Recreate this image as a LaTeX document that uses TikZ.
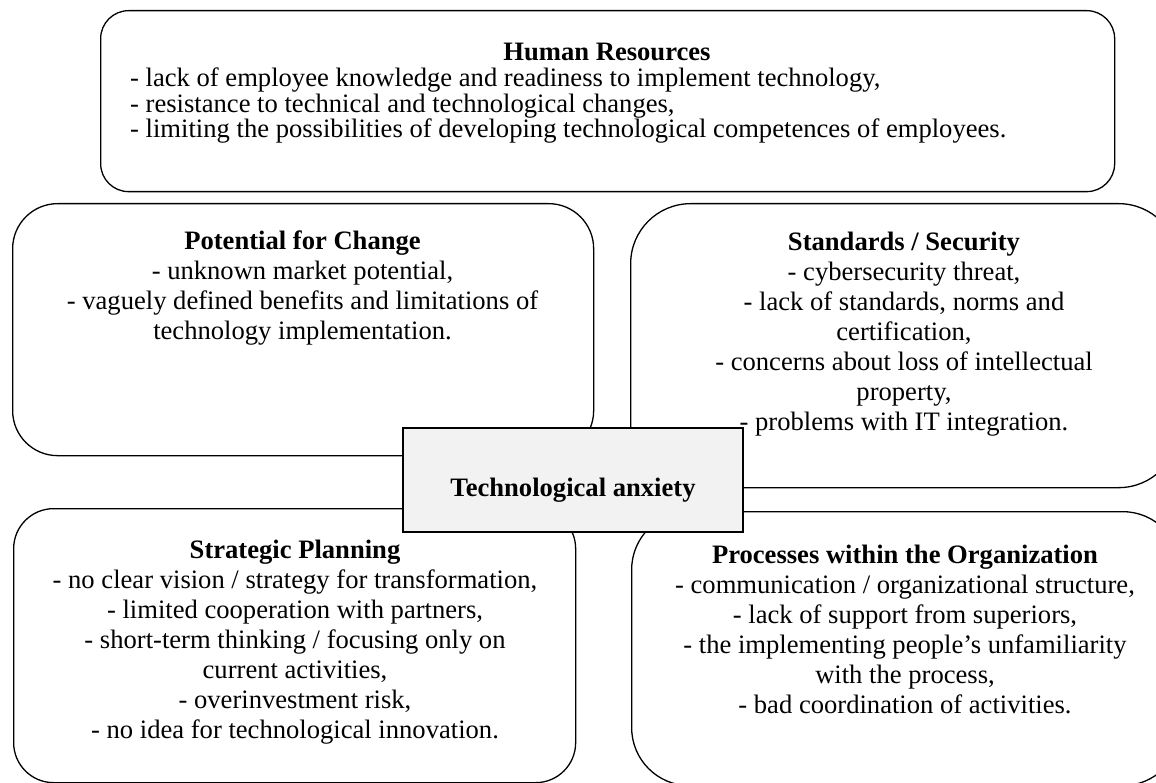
\documentclass[tikz,border=0pt]{standalone}
\usepackage{fontspec}
\setmainfont{Liberation Serif}
\definecolor{hubgrey}{HTML}{F2F2F2}
\begin{document}
\begin{tikzpicture}[x=1pt,y=-1pt,
  panel/.style={draw=black, line width=1.3pt, inner sep=0pt, anchor=north west},
  hub/.style={draw=black, line width=1.3pt, fill=hubgrey, inner sep=0pt,
              minimum width=340pt, minimum height=104pt},
  blurb/.style={anchor=base, inner sep=0pt, font=\fontsize{26.6}{30}\selectfont}]
\useasboundingbox (0,0) rectangle (1156,783);

% outer panels, one per group of factors
\node[panel, rounded corners=28pt, minimum width=1014pt, minimum height=181pt] (hr) at (100,10) {};
\node[panel, rounded corners=45pt, minimum width=581pt, minimum height=252pt] (pot) at (12,203) {};
\node[panel, rounded corners=60pt, minimum width=548pt, minimum height=284pt] (std) at (630,203) {};
\node[panel, rounded corners=40pt, minimum width=562pt, minimum height=274pt] (plan) at (13,508) {};
\node[panel, rounded corners=58pt, minimum width=549pt, minimum height=274pt] (proc) at (631,511) {};

% Human Resources
\node[blurb] (hrtitle) at (607,61) {\bfseries Human Resources};
\node[blurb, anchor=base west] (hrtext) at (130,87) {\parbox[t]{980pt}{\fontsize{26.6}{25.5}\selectfont\raggedright
- lack of employee knowledge and readiness to implement technology,\\
- resistance to technical and technological changes,\\
- limiting the possibilities of developing technological competences of employees.}};

% Potential for Change
\node[blurb] (pottext) at (302.5,250) {\parbox[t]{600pt}{\centering
\textbf{Potential for Change}\\
- unknown market potential,\\
- vaguely defined benefits and limitations of\\
technology implementation.}};

% Standards / Security
\node[blurb] (stdtext) at (904,251) {\parbox[t]{600pt}{\centering
\textbf{Standards / Security}\\
- cybersecurity threat,\\
- lack of standards, norms and\\
certification,\\
- concerns about loss of intellectual\\
property,\\
- problems with IT integration.}};

% Strategic Planning
\node[blurb] (plantext) at (295,558) {\parbox[t]{600pt}{\centering
\textbf{Strategic Planning}\\
- no clear vision / strategy for transformation,\\
- limited cooperation with partners,\\
- short-term thinking / focusing only on\\
current activities,\\
- overinvestment risk,\\
- no idea for technological innovation.}};

% Processes within the Organization
\node[blurb] (proctext) at (905,563) {\parbox[t]{600pt}{\centering
\textbf{Processes within the Organization}\\
- communication / organizational structure,\\
- lack of support from superiors,\\
- the implementing people’s unfamiliarity\\
with the process,\\
- bad coordination of activities.}};

% central box, drawn last so it sits over the panels
\node[hub] (hub) at (573,480) {};
\node[blurb, anchor=base] (hubtext) at (573,496) {\bfseries Technological anxiety};
\end{tikzpicture}
\end{document}
